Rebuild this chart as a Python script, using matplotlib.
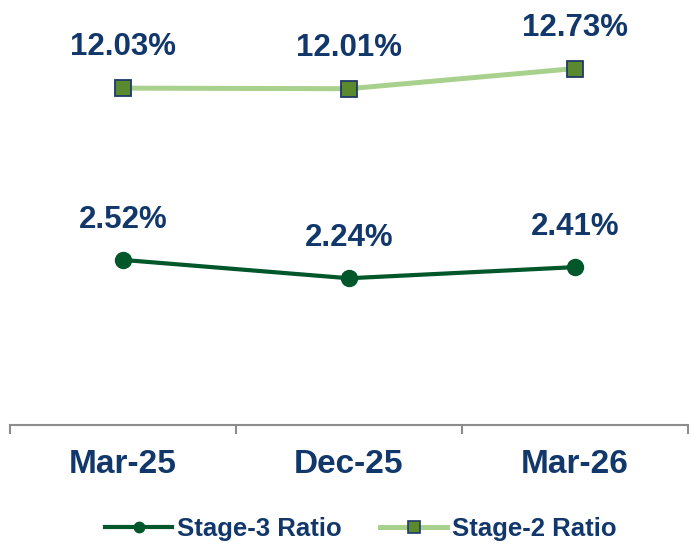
import matplotlib
matplotlib.use('Agg')
import matplotlib.pyplot as plt
from matplotlib.lines import Line2D

# data
periods = ['Mar-25', 'Dec-25', 'Mar-26']
stage3 = [2.52, 2.24, 2.41]
stage2 = [12.03, 12.01, 12.73]

navy = '#12386B'
dark_green = '#00572A'
light_green = '#A9D18E'
olive = '#5B8A2E'

plt.rcParams['font.family'] = ['Liberation Sans', 'DejaVu Sans']
plt.rcParams['font.weight'] = 'bold'

fig = plt.figure(figsize=(6.91, 5.49), dpi=100)
ax = fig.add_axes([10 / 691, 0.2259, 678 / 691, 424 / 549])
ax2 = ax.twinx()

x = list(range(len(periods)))

ax.plot(x, stage3, color=dark_green, lw=3, marker='o', ms=11.5,
        mfc=dark_green, mec=dark_green, zorder=3)
ax2.plot(x, stage2, color=light_green, lw=3.6, marker='s', ms=12,
         mfc=olive, mec='#1F3A6A', mew=1.3, zorder=3)

# separate y scales for the two ratios
ax.set_ylim(0, 424 / 65.5)
ax2.set_ylim(0, 424 / 28.0)
ax.set_xlim(-0.5, 2.5)

for i, v in enumerate(stage3):
    ax.annotate(f'{v:.2f}%', (i, v), xytext=(0, 29), textcoords='offset points',
                ha='center', va='center', fontsize=22.5, fontweight='bold', color=navy)
for i, v in enumerate(stage2):
    ax2.annotate(f'{v:.2f}%', (i, v), xytext=(0, 29.5), textcoords='offset points',
                 ha='center', va='center', fontsize=22.5, fontweight='bold', color=navy)

for a in (ax, ax2):
    for s in ('top', 'left', 'right'):
        a.spines[s].set_visible(False)
    a.set_yticks([])
ax2.spines['bottom'].set_visible(False)
ax.spines['bottom'].set_color('#8C8C8C')
ax.spines['bottom'].set_linewidth(1.5)

ax.set_xticks(x)
ax.set_xticklabels(periods, fontsize=24, fontweight='bold', color=navy)
ax.tick_params(axis='x', which='major', length=0, pad=17)
ax.set_xticks([-0.5, 0.5, 1.5, 2.5], minor=True)
ax.tick_params(axis='x', which='minor', length=6.5, width=1.5, color='#8C8C8C')

handles = [
    Line2D([], [], color=dark_green, lw=3, marker='o', ms=7.5, mfc=dark_green, mec=dark_green),
    Line2D([], [], color=light_green, lw=3.6, marker='s', ms=9, mfc=olive, mec='#1F3A6A', mew=1.2),
]
leg = fig.legend(handles, ['Stage-3 Ratio', 'Stage-2 Ratio'], loc='center',
                 bbox_to_anchor=(361 / 691, 1 - 529 / 549), ncol=2, frameon=False,
                 prop={'size': 18.5, 'weight': 'bold'}, handlelength=2.6,
                 handletextpad=0.2, columnspacing=1.5, borderpad=0)
for t in leg.get_texts():
    t.set_color(navy)

fig.savefig('out.png', dpi=100)
